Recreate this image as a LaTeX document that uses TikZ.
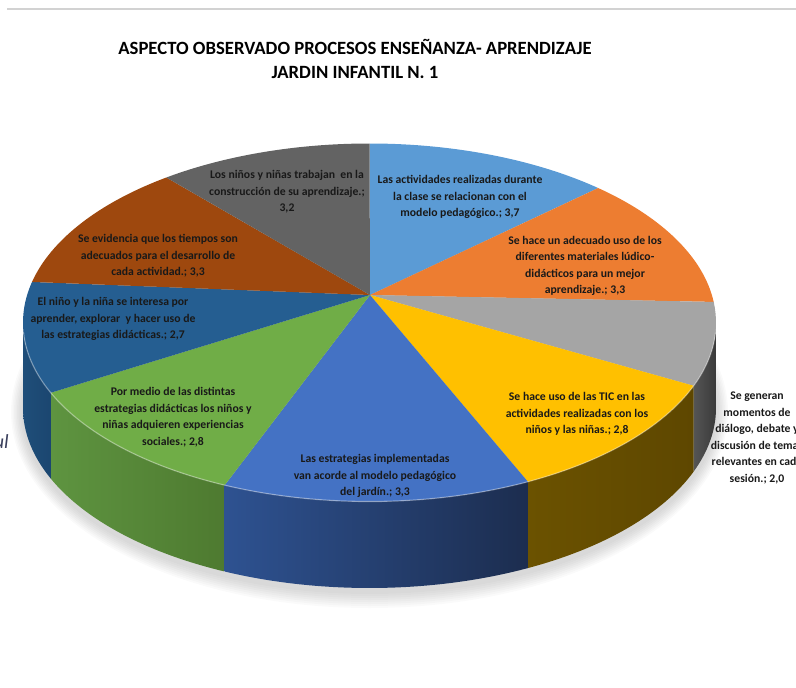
\documentclass[tikz,border=0pt]{standalone}
\usepackage{fontspec}
\setmainfont{Carlito}
\usetikzlibrary{calc}
\definecolor{cLB}{HTML}{5B9BD5}
\definecolor{cOR}{HTML}{ED7D31}
\definecolor{cGR}{HTML}{A5A5A5}
\definecolor{cYE}{HTML}{FFC000}
\definecolor{cBL}{HTML}{4472C4}
\definecolor{cGN}{HTML}{70AD47}
\definecolor{cDB}{HTML}{255E91}
\definecolor{cBR}{HTML}{9E480E}
\definecolor{cDG}{HTML}{636363}
\definecolor{sGRl}{HTML}{555555}
\definecolor{sGRr}{HTML}{3A3A3A}
\definecolor{sYEl}{HTML}{6B5200}
\definecolor{sYEr}{HTML}{5E4700}
\definecolor{sBLl}{HTML}{2E5291}
\definecolor{sBLr}{HTML}{1C2D4F}
\definecolor{sGNl}{HTML}{5E9440}
\definecolor{sGNr}{HTML}{4E7A30}
\definecolor{sDBl}{HTML}{1F4E79}
\definecolor{sDBr}{HTML}{1B4670}
\definecolor{fragc}{HTML}{3A3F5C}
\begin{document}
\begin{tikzpicture}[x=1pt,y=1pt,
  lbl/.style={font=\bfseries\fontsize{11.7}{16.5}\selectfont, align=center, text=black!90, inner sep=0pt},
  ttl/.style={font=\bfseries\fontsize{18.7}{24}\selectfont, align=center, text=black, inner sep=0pt}]
\useasboundingbox (0,0) rectangle (796,-688);
% separator line
\draw[gray!35, line width=1.5pt] (7,-9) -- (796,-9);
% geometry
\coordinate (C) at (369.5,-322.5);
\coordinate (Cb) at (369.5,-408);
\coordinate (O) at (370,-295);
% shadow
\foreach \i in {1,...,8}{
  \fill[black, opacity=0.02] (369.5,-412) ellipse[x radius=346.5+1.5*\i, y radius=180+2*\i];
}
% side faces
\newcommand{\sideface}[4]{%
  \shade[left color=#3, right color=#4]
    ($(C)+(#1:346.5 and 179)$) arc[start angle=#1, end angle=#2, x radius=346.5, y radius=179]
    -- ($(Cb)+(#2:346.5 and 180)$) arc[start angle=#2, end angle=#1, x radius=346.5, y radius=180] -- cycle;}
\sideface{0}{-20.7}{sGRl}{sGRr}
\sideface{-20.7}{-62.8}{sYEl}{sYEr}
\sideface{-62.8}{-114.7}{sBLl}{sBLr}
\sideface{-114.7}{-156.9}{sGNl}{sGNr}
\sideface{-156.9}{-180}{sDBl}{sDBr}
% top faces
\newcommand{\topface}[3]{%
  \fill[#3] (O) -- ($(C)+(#1:346.5 and 179)$) arc[start angle=#1, end angle=#2, x radius=346.5, y radius=179] -- cycle;}
\topface{90}{48.7}{cLB}
\topface{48.7}{6.6}{cOR}
\topface{6.6}{-20.7}{cGR}
\topface{-20.7}{-62.8}{cYE}
\topface{-62.8}{-114.7}{cBL}
\topface{-114.7}{-156.9}{cGN}
\topface{203.1}{166.9}{cDB}
\topface{166.9}{125.9}{cBR}
\topface{125.9}{90}{cDG}
% bevel highlight on front edge
\draw[white, opacity=0.35, line width=1.2pt] ($(C)+(-3:346.5 and 179)$) arc[start angle=-3, end angle=-177, x radius=346.5, y radius=179];
% title
\node[ttl] (title) at (355,-59) {ASPECTO OBSERVADO PROCESOS ENSEÑANZA- APRENDIZAJE\\JARDIN INFANTIL N. 1};
% labels
\node[lbl] (l1) at (460,-197) {Las actividades realizadas durante\\la clase se relacionan con el\\modelo pedagógico.; 3,7};
\node[lbl] (l2) at (585,-266) {Se hace un adecuado uso de los\\diferentes materiales lúdico-\\didácticos para un mejor\\aprendizaje.; 3,3};
\node[lbl] (l3) at (757,-438) {Se generan\\momentos de\\diálogo, debate y\\discusión de temas\\relevantes en cada\\sesión.; 2,0};
\node[lbl] (l4) at (577,-414) {Se hace uso de las TIC en las\\actividades realizadas con los\\niños y las niñas.; 2,8};
\node[lbl] (l5) at (375,-476) {Las estrategias implementadas\\van acorde al modelo pedagógico\\del jardín.; 3,3};
\node[lbl] (l6) at (173,-417) {Por medio de las distintas\\estrategias didácticas los niños y\\niñas adquieren experiencias\\sociales.; 2,8};
\node[lbl] (l7) at (113,-319) {El niño y la niña se interesa por\\aprender, explorar~ y hacer uso de\\las estrategias didácticas.; 2,7};
\node[lbl] (l8) at (158,-256) {Se evidencia que los tiempos son\\adecuados para el desarrollo de\\cada actividad.; 3,3};
\node[lbl] (l9) at (287,-192) {Los niños y niñas trabajan~ en la\\construcción de su aprendizaje.;\\3,2};
% fragment at left edge
\node[anchor=east, inner sep=0pt, text=fragc, font=\rmfamily\itshape\fontsize{20}{20}\selectfont] (frag) at (9,-442) {ul};
\end{tikzpicture}
\end{document}
